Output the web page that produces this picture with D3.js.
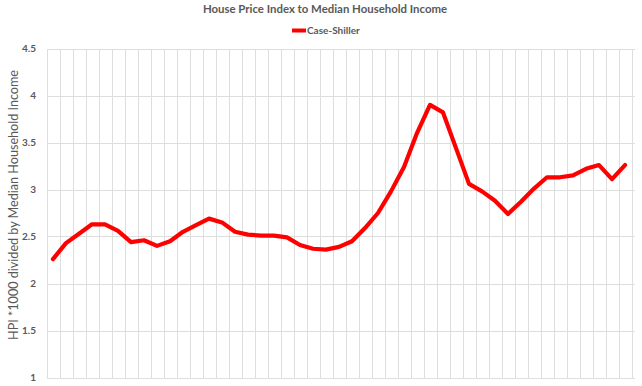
<!DOCTYPE html>
<meta charset="utf-8">
<style>
body { margin: 0; background: #fff; }
text { font-family: Lato, "Liberation Sans", sans-serif; fill: #595959; }
.grid line { stroke: #dedede; stroke-width: 1; shape-rendering: crispEdges; }
.hpi { fill: none; stroke: #ff0000; stroke-width: 4.2; stroke-linejoin: round; stroke-linecap: round; }
</style>
<svg width="642" height="386"></svg>
<script src="https://cdn.jsdelivr.net/npm/d3@7"></script>
<script>

// one point per year
var years = d3.range(1976, 2021).map(String);
var ratio = [2.26, 2.43, 2.53, 2.63, 2.63, 2.56, 2.44, 2.46, 2.40, 2.45,
             2.55, 2.62, 2.69, 2.65, 2.55, 2.52, 2.51, 2.51, 2.49, 2.41,
             2.37, 2.36, 2.39, 2.45, 2.59, 2.75, 2.98, 3.24, 3.60, 3.90,
             3.82, 3.44, 3.06, 2.98, 2.88, 2.74, 2.87, 3.01, 3.13, 3.13,
             3.15, 3.22, 3.26, 3.11, 3.26];
var yTicks = [1, 1.5, 2, 2.5, 3, 3.5, 4, 4.5];

var svg = d3.select("svg");

var x = d3.scaleBand()
    .domain(years)
    .range([46.5, 631.5]);

var y = d3.scaleLinear()
    .domain([1, 4.5])
    .range([377.5, 48.5]);

var grid = svg.append("g").attr("class", "grid");

grid.selectAll(".h")
  .data(yTicks)
  .enter().append("line")
    .attr("class", "h")
    .attr("x1", x.range()[0])
    .attr("x2", 634.5)
    .attr("y1", function(d) { return Math.round(y(d)) + 0.5; })
    .attr("y2", function(d) { return Math.round(y(d)) + 0.5; });

grid.selectAll(".v")
  .data(years.concat(["end"]))
  .enter().append("line")
    .attr("class", "v")
    .attr("x1", function(d, i) { return Math.round(x.range()[0] + i * x.step()) + 0.5; })
    .attr("x2", function(d, i) { return Math.round(x.range()[0] + i * x.step()) + 0.5; })
    .attr("y1", y(4.5))
    .attr("y2", y(1));

svg.append("g")
  .selectAll("text")
  .data(yTicks)
  .enter().append("text")
    .attr("x", 36)
    .attr("y", function(d) { return y(d) + 3.5; })
    .attr("text-anchor", "end")
    .attr("font-size", "10px")
    .attr("font-weight", "bold")
    .text(function(d) { return d; });

svg.append("text")
    .attr("transform", "translate(18,205) rotate(-90)")
    .attr("text-anchor", "middle")
    .attr("font-size", "12.6px")
    .text("HPI *1000 divided by Median Household Income");

svg.append("text")
    .attr("x", 325)
    .attr("y", 13)
    .attr("text-anchor", "middle")
    .attr("font-size", "11.4px")
    .attr("font-weight", "bold")
    .text("House Price Index to Median Household Income");

svg.append("line")
    .attr("x1", 292).attr("x2", 306)
    .attr("y1", 30.5).attr("y2", 30.5)
    .attr("stroke", "#ff0000")
    .attr("stroke-width", 4);

svg.append("text")
    .attr("x", 307)
    .attr("y", 34)
    .attr("font-size", "10px")
    .attr("font-weight", "bold")
    .text("Case-Shiller");

var line = d3.line()
    .x(function(d, i) { return x(years[i]) + x.bandwidth() / 2; })
    .y(function(d) { return y(d); });

svg.append("path")
    .datum(ratio)
    .attr("class", "hpi")
    .attr("d", line);

</script>
